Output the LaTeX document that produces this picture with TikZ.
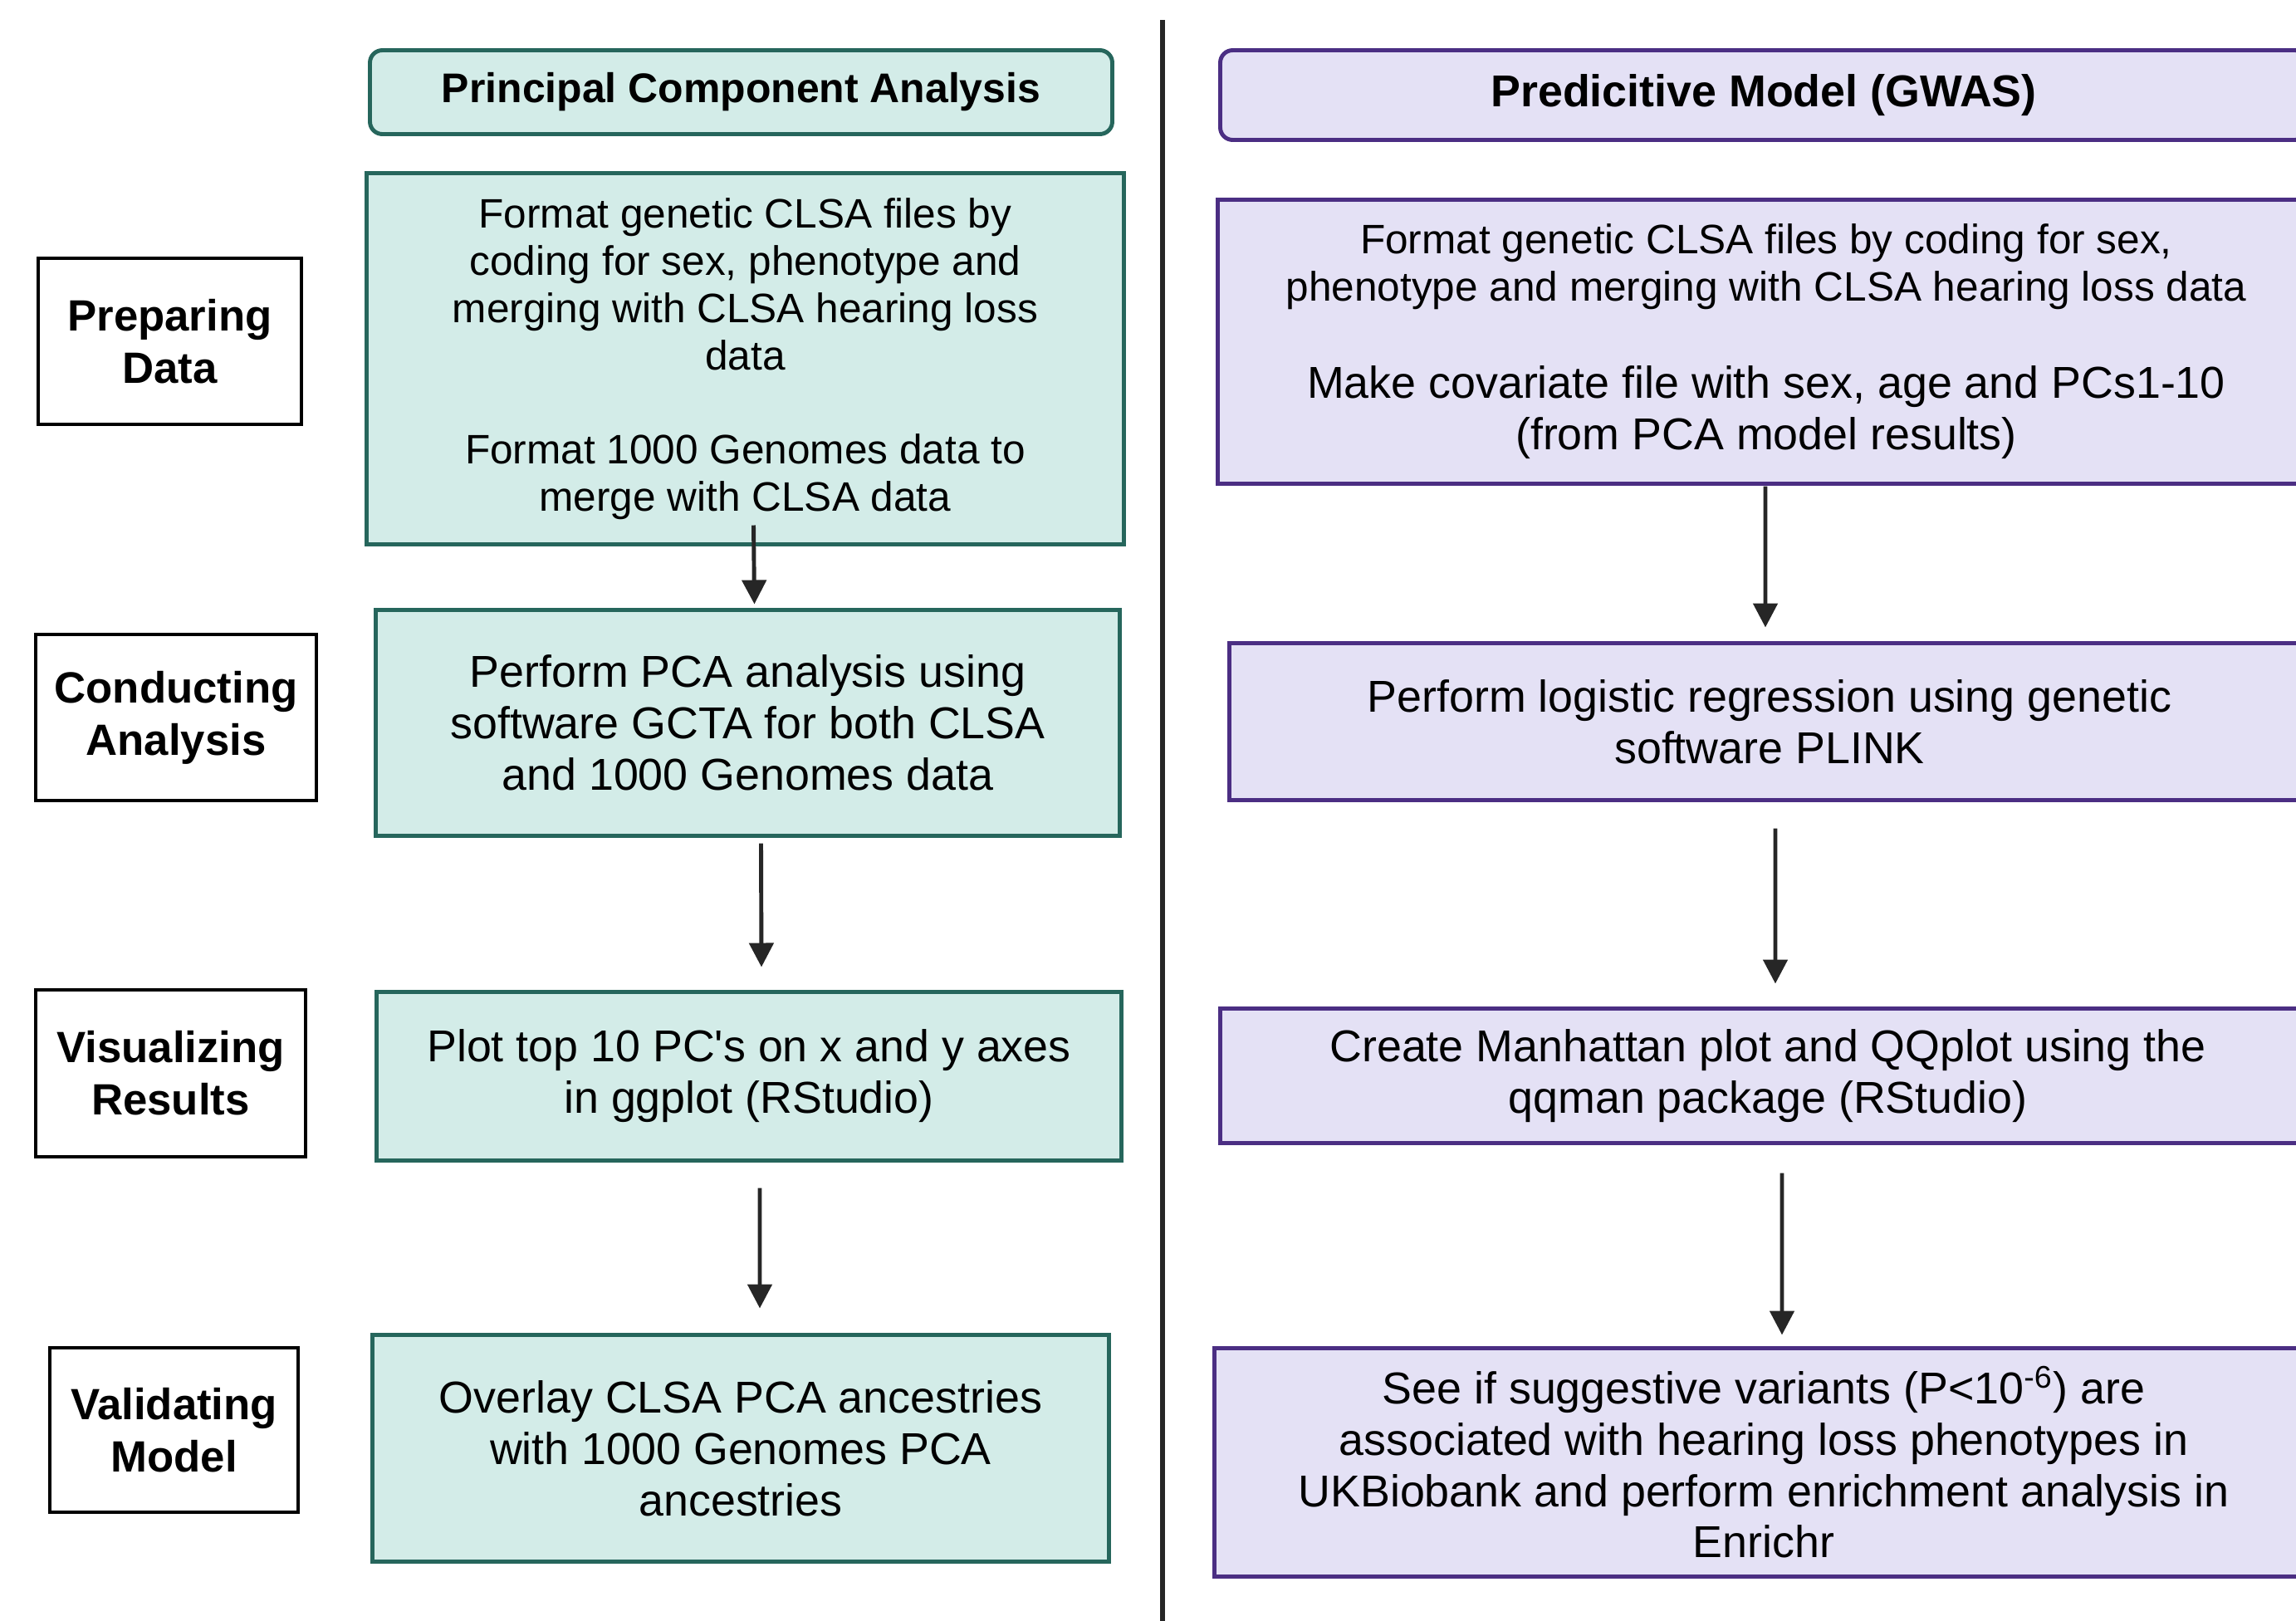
\documentclass[tikz,border=0pt]{standalone}
\usepackage{fontspec}
\setmainfont{Liberation Sans}
\usepackage{tikz}
\usetikzlibrary{arrows.meta}

\definecolor{pcafill}{HTML}{D3ECE8}
\definecolor{pcaline}{HTML}{26665C}
\definecolor{gwasfill}{HTML}{E4E1F5}
\definecolor{gwasline}{HTML}{4B2E83}
\definecolor{arrgray}{HTML}{262626}

\begin{document}
\begin{tikzpicture}[
    box/.style={draw, inner sep=0pt, outer sep=0pt, align=center, line width=1.4pt},
    pcahead/.style={box, draw=pcaline, fill=pcafill, rounded corners=1.5mm, font=\fontsize{14.2}{17}\selectfont\bfseries},
    pcabox/.style={box, draw=pcaline, fill=pcafill, font=\fontsize{15.3}{17.6}\selectfont},
    gwashead/.style={box, draw=gwasline, fill=gwasfill, rounded corners=1.5mm, font=\fontsize{15.3}{18}\selectfont\bfseries},
    gwasbox/.style={box, draw=gwasline, fill=gwasfill, font=\fontsize{15.3}{17.6}\selectfont},
    small/.style={font=\fontsize{14.1}{16.2}\selectfont},
    stagebox/.style={box, draw=black, fill=white, line width=1.3pt, font=\fontsize{15}{18}\selectfont\bfseries},
    arr/.style={-{Triangle[length=2.9mm,width=2.9mm]}, line width=1.4pt, arrgray},
    divider/.style={line width=1.6pt, arrgray},
]
\useasboundingbox (0,0) rectangle (27.65,-19.51);

% Stage labels
\node[stagebox, minimum width=3.17cm, minimum height=2.0cm] (prep) at (2.045,-4.11) {Preparing\\Data};
\node[stagebox, minimum width=3.38cm, minimum height=2.0cm] (cond) at (2.12,-8.64) {Conducting\\Analysis};
\node[stagebox, minimum width=3.25cm, minimum height=2.01cm] (vis) at (2.055,-12.925) {Visualizing\\Results};
\node[stagebox, minimum width=2.99cm, minimum height=1.98cm] (val) at (2.095,-17.22) {Validating\\Model};

% PCA column
\node[pcahead, minimum width=8.94cm, minimum height=1.01cm] (pcatitle) at (8.925,-1.11) {Principal Component Analysis};
\node[pcabox, small, minimum width=9.12cm, minimum height=4.47cm] (pcaprep) at (8.975,-4.32)
    {Format genetic CLSA files by\\coding for sex, phenotype and\\merging with CLSA hearing loss\\data\\[16pt]Format 1000 Genomes data to\\merge with CLSA data};
\node[pcabox, minimum width=8.96cm, minimum height=2.72cm] (pcarun) at (9.005,-8.705)
    {Perform PCA analysis using\\software GCTA for both CLSA\\and 1000 Genomes data};
\node[pcabox, minimum width=8.97cm, minimum height=2.03cm] (pcaplot) at (9.02,-12.96)
    {Plot top 10 PC\textquotesingle s on x and y axes\\in ggplot (RStudio)};
\node[pcabox, minimum width=8.87cm, minimum height=2.73cm] (pcacheck) at (8.92,-17.44)
    {Overlay CLSA PCA ancestries\\with 1000 Genomes PCA\\ancestries};

% GWAS column
\node[gwashead, minimum width=13.09cm, minimum height=1.08cm] (gwastitle) at (21.24,-1.145) {Predicitive Model (GWAS)};
\node[gwasbox, small, minimum width=13.21cm, minimum height=3.42cm] (gwasprep) at (21.27,-4.115)
    {Format genetic CLSA files by coding for sex,\\phenotype and merging with CLSA hearing loss data\\[17pt]
     \fontsize{15.3}{17.6}\selectfont Make covariate file with sex, age and PCs1-10\\[1.5pt]
     \fontsize{15.3}{17.6}\selectfont (from PCA model results)};
\node[gwasbox, minimum width=13.01cm, minimum height=1.89cm] (gwasrun) at (21.31,-8.69)
    {Perform logistic regression using genetic\\software PLINK};
\node[gwasbox, minimum width=13.19cm, minimum height=1.62cm] (gwasplot) at (21.29,-12.955)
    {Create Manhattan plot and QQplot using the\\qqman package (RStudio)};
\node[gwasbox, minimum width=13.23cm, minimum height=2.75cm] (gwascheck) at (21.24,-17.61)
    {See if suggestive variants (P<10\textsuperscript{-6}) are\\associated with hearing loss phenotypes in\\UKBiobank and perform enrichment analysis in\\Enrichr};

% Divider
\coordinate (divtop) at (14.0,-0.24);
\coordinate (divbot) at (14.0,-19.6);
\draw[divider] (divtop) -- (divbot);

% PCA arrows
\draw[arr] ([xshift=1mm,yshift=2.3mm]pcaprep.south) -- ([xshift=0.8mm,yshift=0.7mm]pcarun.north);
\draw[arr] ([xshift=1.6mm,yshift=-0.9mm]pcarun.south) -- ([xshift=1.5mm,yshift=3.0mm]pcaplot.north);
\draw[arr] ([xshift=1.3mm,yshift=-3.3mm]pcaplot.south) -- ([xshift=2.3mm,yshift=3.2mm]pcacheck.north);

% GWAS arrows
\draw[arr] ([xshift=-0.1mm,yshift=-0.3mm]gwasprep.south) -- ([xshift=-0.5mm,yshift=1.9mm]gwasrun.north);
\draw[arr] ([xshift=0.7mm,yshift=-3.4mm]gwasrun.south) -- ([xshift=0.9mm,yshift=3.0mm]gwasplot.north);
\draw[arr] ([xshift=1.7mm,yshift=-3.6mm]gwasplot.south) -- ([xshift=2.2mm,yshift=1.6mm]gwascheck.north);

\end{tikzpicture}
\end{document}
